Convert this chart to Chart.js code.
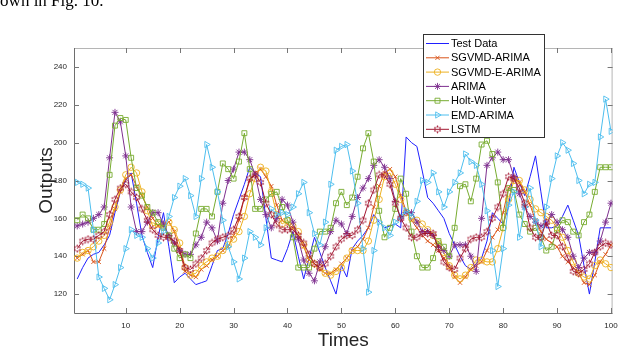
<!DOCTYPE html>
<html>
<head>
<meta charset="utf-8">
<script src="https://cdn.jsdelivr.net/npm/chart.js@4.4.0/dist/chart.umd.min.js"></script>
<style>
html,body{margin:0;padding:0;background:#fff;overflow:hidden;}
#wrap{position:relative;width:618px;height:350px;overflow:hidden;}
#chart1{position:absolute;left:0;top:0;}
#caption{position:absolute;left:-15px;top:-9px;font-family:"Liberation Serif",serif;font-size:17px;color:#000;white-space:nowrap;}
</style>
</head>
<body>
<div id="wrap">
<canvas id="chart1" width="618" height="350"></canvas>
<div id="caption">shown in Fig. 10.</div>
</div>
<script>
var times = [1,2,3,4,5,6,7,8,9,10,11,12,13,14,15,16,17,18,19,20,
21,22,23,24,25,26,27,28,29,30,31,32,33,34,35,36,37,38,39,40,
41,42,43,44,45,46,47,48,49,50,51,52,53,54,55,56,57,58,59,60,
61,62,63,64,65,66,67,68,69,70,71,72,73,74,75,76,77,78,79,80,
81,82,83,84,85,86,87,88,89,90,91,92,93,94,95,96,97,98,99,100];
var xTicks = [10,20,30,40,50,60,70,80,90,100];
var yTicks = [120,140,160,180,200,220,240];

var testData = [128,134,139,141,142,146,151,163,174,180, 184,168,151,142,134,150,163,145,126,129,
131,128,125,126,127,135,143,144,152,162, 170,178,187,184,182,160,139,138,137,144,
153,140,128,139,150,142,134,127,120,135, 129,144,148,151,155,162,158,155,156,157,
155,203,200,198,185,171,168,164,160,152, 146,140,135,133,136,139,148,163,160,157,
166,187,179,172,182,193,174,155,155,156, 161,167,159,151,135,120,137,155,155,155];

var sgvmdArima = [139,141,143,137,137,144,155,165,174,181, 183,177,172,166,160,156,156,158,153,143,
132,130,129,133,135,138,140,143,145,151, 159,171,180,184,186,182,177,167,159,157,
155,151,145,138,136,133,131,131,133,136, 139,143,145,149,155,166,177,184,186,182,
172,164,159,155,151,148,146,143,139,134, 129,126,129,133,135,137,143,150,154,163,
176,181,179,174,167,159,153,149,147,145, 140,137,134,131,126,125,130,137,141,146];

var sgvmdEArima = [139,142,143,145,148,151,158,166,175,183, 187,184,174,164,156,157,156,158,154,147,
134,130,131,135,137,139,140,143,146,149, 153,161,173,181,187,185,174,162,157,159,
156,153,146,138,136,134,131,130,132,134, 139,143,143,143,148,159,170,182,184,178,
170,163,160,159,157,154,151,147,142,135, 130,128,130,134,138,138,137,137,144,155,
170,180,180,175,170,165,163,161,159,155, 150,143,137,131,129,128,135,138,136,134];

var arima = [156,157,158,160,162,166,192,216,211,193, 166,153,153,158,163,163,157,151,147,143,
141,141,146,150,158,155,148,168,180,186, 195,195,191,183,170,162,155,160,170,167,
158,149,138,131,127,137,145,153,159,157, 152,161,171,176,181,188,191,187,181,169,
160,163,163,158,153,153,151,145,143,140, 146,146,146,140,132,160,188,192,195,191,
191,182,173,166,161,158,156,157,162,158, 154,150,140,134,139,142,142,148,158,168];

var holtWinter = [159,162,160,154,154,157,183,209,213,212, 192,176,172,166,163,158,155,151,144,139,
141,139,152,165,165,161,174,189,186,181, 190,205,186,165,165,170,173,174,166,159,
150,134,134,134,144,153,153,155,168,174, 167,171,182,197,205,190,164,150,155,165,
181,173,153,140,134,134,139,148,145,140, 155,177,178,169,181,199,201,194,179,155,
176,175,162,157,153,155,150,143,145,154, 159,158,153,151,158,162,174,187,187,187];

var emdArima = [179,178,176,154,129,123,117,125,134,144, 154,151,150,144,139,147,153,161,171,177,
181,172,161,181,199,187,174,159,145,137, 128,139,153,150,146,155,165,162,163,162,
166,173,179,163,152,146,158,178,196,198, 199,185,168,144,121,143,158,155,151,158,
161,164,161,169,180,179,184,174,166,174, 179,184,194,190,188,178,164,143,124,144,
167,174,150,166,176,159,145,166,181,193, 200,196,189,180,173,178,179,203,223,206];

var lstm = [144,148,149,149,151,153,162,170,176,178, 174,171,165,159,154,151,150,150,148,143,
134,133,136,139,143,147,149,150,151,154, 161,171,181,183,179,168,162,157,154,154,
154,151,147,141,136,134,136,140,145,149, 151,151,154,159,168,175,183,183,178,168,
160,155,150,150,152,152,152,144,137,134, 133,139,144,149,150,150,153,160,166,173,
182,181,176,168,155,150,150,158,151,151, 145,139,132,131,133,136,142,145,147,146];

var seriesNames = ["Test Data","SGVMD-ARIMA","SGVMD-E-ARIMA","ARIMA","Holt-Winter","EMD-ARIMA","LSTM"];
var seriesValues = [testData, sgvmdArima, sgvmdEArima, arima, holtWinter, emdArima, lstm];

seriesValues.forEach(function(s, i){
    if (s.length !== times.length) { throw new Error(seriesNames[i] + " has " + s.length + " values"); }
});

var colores = ["#1f1fff","#D95319","#EDB120","#7E2F8E","#77AC30","#4DBEEE","#A2142F"];

function hexagram(color){
    var c = document.createElement('canvas');
    c.width = 9; c.height = 9;
    var g = c.getContext('2d');
    g.fillStyle = color;
    g.beginPath();
    g.moveTo(4.5, 0.3); g.lineTo(8.2, 6.6); g.lineTo(0.8, 6.6); g.closePath();
    g.moveTo(4.5, 8.7); g.lineTo(8.2, 2.4); g.lineTo(0.8, 2.4); g.closePath();
    g.fill();
    return c;
}

var marcadores = [
    {style: false, radius: 0, rotation: 0, fill: false},
    {style: 'crossRot', radius: 3, rotation: 0, fill: false},
    {style: 'circle', radius: 3.2, rotation: 0, fill: false},
    {style: 'star', radius: 3.5, rotation: 0, fill: false},
    {style: 'rect', radius: 3.5, rotation: 0, fill: false},
    {style: 'triangle', radius: 3.6, rotation: 90, fill: false},
    {style: hexagram("#A2142F"), radius: 4.5, rotation: 0, fill: true}
];

function serie(values){
    return values.map(function(v, i){ return {x: times[i], y: v}; });
}

var datasets = seriesValues.map(function(vals, i){
    var m = marcadores[i];
    return {
        label: seriesNames[i],
        data: serie(vals),
        borderColor: colores[i],
        backgroundColor: colores[i],
        borderWidth: 1,
        pointStyle: m.style,
        pointRadius: m.radius,
        pointRotation: m.rotation,
        pointBorderColor: colores[i],
        pointBackgroundColor: m.fill ? colores[i] : 'rgba(0,0,0,0)',
        pointBorderWidth: 0.9,
        tension: 0,
        order: seriesNames.length - 1 - i
    };
});

var fuente = '"Liberation Sans", Arial, sans-serif';

var marco = {
    id: 'marco',
    beforeDatasetsDraw: function(chart){
        var ctx = chart.ctx, a = chart.chartArea;
        var sx = chart.scales.x, sy = chart.scales.y;
        ctx.save();
        ctx.lineWidth = 1;
        ctx.strokeStyle = '#b5b5b5';
        ctx.beginPath();
        ctx.moveTo(a.left, a.top + 0.5); ctx.lineTo(a.right, a.top + 0.5);
        ctx.moveTo(a.right - 0.5, a.top); ctx.lineTo(a.right - 0.5, a.bottom);
        ctx.stroke();
        ctx.strokeStyle = '#6e6e6e';
        ctx.beginPath();
        ctx.moveTo(a.left + 0.5, a.top); ctx.lineTo(a.left + 0.5, a.bottom + 0.5);
        ctx.lineTo(a.right, a.bottom + 0.5);
        ctx.stroke();
        ctx.strokeStyle = '#777';
        ctx.beginPath();
        xTicks.forEach(function(v){
            var px = Math.round(sx.getPixelForValue(v)) + 0.5;
            ctx.moveTo(px, a.bottom); ctx.lineTo(px, a.bottom - 5);
            ctx.moveTo(px, a.top); ctx.lineTo(px, a.top + 5);
        });
        yTicks.forEach(function(v){
            var py = Math.round(sy.getPixelForValue(v)) + 0.5;
            ctx.moveTo(a.left, py); ctx.lineTo(a.left + 5, py);
            ctx.moveTo(a.right, py); ctx.lineTo(a.right - 5, py);
        });
        ctx.stroke();
        ctx.restore();
    },
    afterDraw: function(chart){
        var ctx = chart.ctx, a = chart.chartArea;
        ctx.save();
        // titulos de ejes
        ctx.fillStyle = '#262626';
        ctx.font = '19px ' + fuente;
        ctx.textAlign = 'center';
        ctx.textBaseline = 'middle';
        ctx.fillText('Times', (a.left + a.right) / 2, 341);
        ctx.translate(47, (a.top + a.bottom) / 2);
        ctx.rotate(-Math.PI / 2);
        ctx.fillText('Outputs', 0, 0);
        ctx.restore();

        // leyenda
        ctx.save();
        var bx = 423.5, by = 34.5, bw = 121, bh = 103;
        ctx.fillStyle = '#fff';
        ctx.fillRect(bx, by, bw, bh);
        ctx.strokeStyle = '#333';
        ctx.lineWidth = 1;
        ctx.strokeRect(bx, by, bw, bh);
        ctx.font = '11px ' + fuente;
        ctx.textAlign = 'left';
        ctx.textBaseline = 'middle';
        seriesNames.forEach(function(nombre, i){
            var y = 43.5 + i * 14.3;
            var m = marcadores[i];
            ctx.strokeStyle = colores[i];
            ctx.fillStyle = m.fill ? colores[i] : 'rgba(0,0,0,0)';
            ctx.lineWidth = 1;
            ctx.beginPath();
            ctx.moveTo(426, y); ctx.lineTo(449, y);
            ctx.stroke();
            if (m.style) {
                ctx.lineWidth = 0.9;
                Chart.helpers.drawPoint(ctx, {pointStyle: m.style, radius: m.radius, rotation: m.rotation, borderWidth: 0.9}, 437.5, y);
            }
            ctx.fillStyle = '#000';
            ctx.fillText(nombre, 451, y + 0.5);
        });
        ctx.restore();
    }
};

var config = {
    type: 'line',
    data: { datasets: datasets },
    options: {
        responsive: false,
        animation: false,
        devicePixelRatio: 1,
        layout: { padding: { top: 48, right: 4, left: 0, bottom: 0 } },
        plugins: { legend: { display: false }, tooltip: { enabled: false } },
        scales: {
            x: {
                type: 'linear',
                min: 0.4,
                max: 100.3,
                grid: { display: false, drawTicks: false },
                border: { display: false },
                afterBuildTicks: function(scale){ scale.ticks = xTicks.map(function(v){ return {value: v}; }); },
                afterFit: function(scale){ scale.height = 37; scale.paddingLeft = 0; scale.paddingRight = 0; },
                ticks: { color: '#262626', font: { size: 8, family: fuente }, padding: 8, maxRotation: 0, autoSkip: false }
            },
            y: {
                type: 'linear',
                min: 110,
                max: 250,
                grid: { display: false, drawTicks: false },
                border: { display: false },
                afterBuildTicks: function(scale){ scale.ticks = yTicks.map(function(v){ return {value: v}; }); },
                afterFit: function(scale){ scale.width = 74; scale.paddingTop = 0; scale.paddingBottom = 0; },
                ticks: { color: '#262626', font: { size: 8, family: fuente }, padding: 7 }
            }
        }
    },
    plugins: [marco]
};

var canvas = document.getElementById('chart1').getContext('2d');
window.grafico = new Chart(canvas, config);
</script>
</body>
</html>
